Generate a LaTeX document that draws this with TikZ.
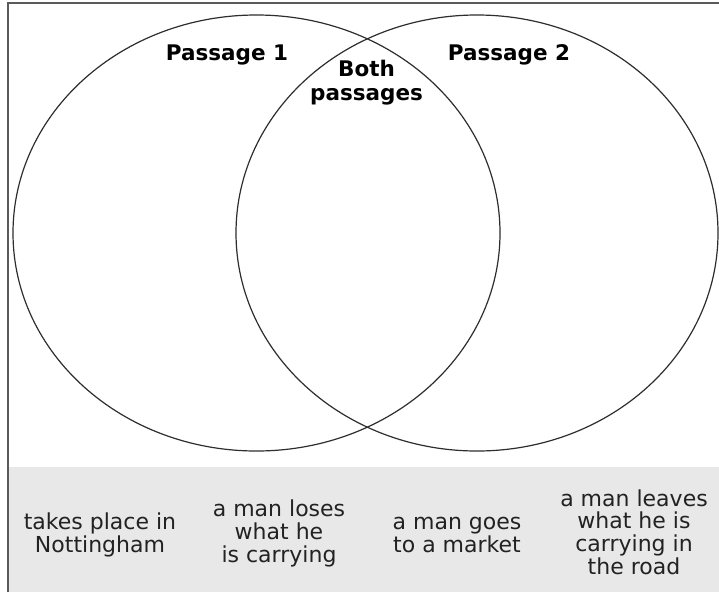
\documentclass[tikz,border=0pt]{standalone}
\usepackage{fontspec}
\setmainfont{DejaVu Sans}
\definecolor{panelgray}{HTML}{E8E8E8}
\definecolor{framegray}{HTML}{5A5A5A}
\definecolor{inkgray}{HTML}{2E2E2E}
\definecolor{textgray}{HTML}{222222}
\tikzset{
  venn/.style={draw=inkgray, line width=1.2pt},
  title/.style={font=\bfseries\fontsize{21.5}{24}\selectfont, text=black, inner sep=0pt, anchor=base, align=center},
  item/.style={font=\fontsize{22}{22.6}\selectfont, text=textgray, inner sep=0pt, anchor=base, align=center}
}
\begin{document}
\begin{tikzpicture}[x=1pt,y=-1pt]
\useasboundingbox (0,0) rectangle (719,592);
\fill[white] (0,0) rectangle (719,592);
\fill[panelgray] (8,467) rectangle (719,592);
\draw[framegray, line width=2pt] (8,592) -- (8,3) -- (719,3);
\draw[venn] (256.5,233) ellipse [x radius=243.5, y radius=218];
\draw[venn] (477,233) ellipse [x radius=241, y radius=218];
\node[title] (p1) at (227,60) {Passage 1};
\node[title] (p2) at (509,60) {Passage 2};
\node[title] (both) at (366.5,100) {Both\\passages};
\node[item] (i1) at (100,552) {takes place in\\Nottingham};
\node[item] (i2) at (279,562) {a man loses\\what he\\is carrying};
\node[item] (i3) at (457,552) {a man goes\\to a market};
\node[item] (i4) at (634,574) {a man leaves\\what he is\\carrying in\\the road};
\end{tikzpicture}
\end{document}
